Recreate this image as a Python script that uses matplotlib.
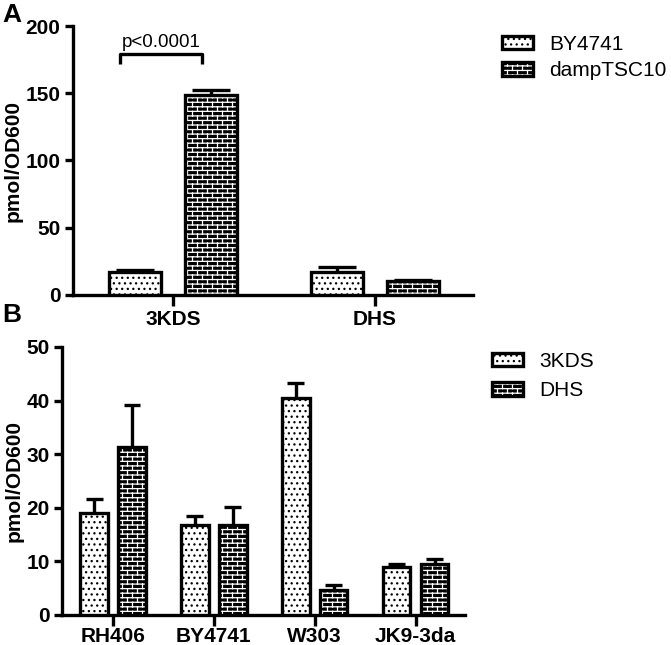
import warnings
import numpy as np
import matplotlib
matplotlib.use('Agg')
import matplotlib.pyplot as plt
import matplotlib.hatch as mhatch
from matplotlib.path import Path
from matplotlib.colors import to_rgba

warnings.filterwarnings('ignore')

# Panel A: 3KDS / DHS in BY4741 vs dampTSC10
groups_a = ['3KDS', 'DHS']
series_a = ['BY4741', 'dampTSC10']
by4741_a = [17, 17]
by4741_a_err = [1.5, 3.5]
damp_a = [149, 10.5]
damp_a_err = [3.5, 1.0]

# Panel B: strains
strains_b = ['RH406', 'BY4741', 'W303', 'JK9-3da']
series_b = ['3KDS', 'DHS']
kds_b = [19, 16.7, 40.4, 9.0]
kds_b_err = [2.7, 1.8, 2.8, 0.6]
dhs_b = [31.4, 16.7, 4.7, 9.6]
dhs_b_err = [7.8, 3.4, 0.9, 0.9]


# brick hatch ('b'), white mortar lines on black bars
class BrickHatch(mhatch.HatchPatternBase):
    rows = 22
    cols = 10

    def __init__(self, hatch, density):
        self.on = 'b' in hatch
        if self.on:
            self.num_vertices = 2 * self.rows + 2 * self.rows * self.cols + 2 * self.cols
        else:
            self.num_vertices = 0

    def set_vertices_and_codes(self, vertices, codes):
        h = 1.0 / self.rows
        w = 1.0 / self.cols
        segs = []
        for i in range(self.rows):
            y0 = (i + 0.5) * h
            segs.append(((0, y0), (1, y0)))
            off = 0.25 * w if i % 2 == 0 else 0.75 * w
            for j in range(self.cols):
                x = off + j * w
                if i < self.rows - 1:
                    segs.append(((x, y0), (x, y0 + h)))
                else:
                    segs.append(((x, y0), (x, 1.0)))
                    segs.append(((x, 0.0), (x, 0.5 * h)))
        for k, (a, b) in enumerate(segs):
            vertices[2 * k] = a
            vertices[2 * k + 1] = b
            codes[2 * k] = Path.MOVETO
            codes[2 * k + 1] = Path.LINETO


mhatch._hatch_types.append(BrickHatch)

plt.rcParams['font.family'] = ['Liberation Sans', 'DejaVu Sans']
plt.rcParams['hatch.linewidth'] = 0.9

LW = 2.4
W, H = 671, 645
fig = plt.figure(figsize=(W / 100, H / 100), dpi=100)


def px_axes(left, top, right, bottom):
    return fig.add_axes([left / W, 1 - bottom / H, (right - left) / W, (bottom - top) / H])


def draw_bars(ax, x, vals, errs, width, kind, cap):
    if kind == 'dots':
        bars = ax.bar(x, vals, width, color='white', edgecolor='black',
                      linewidth=LW, hatch='...', zorder=3)
    else:
        bars = ax.bar(x, vals, width, color='black', edgecolor='black',
                      linewidth=LW, hatch='b', zorder=3)
        for p in bars:
            p._hatch_color = to_rgba('white')
    tops = np.array(vals) + np.array(errs)
    ax.vlines(x, vals, tops, color='black', linewidth=LW, zorder=2)
    ax.hlines(tops, np.array(x) - cap, np.array(x) + cap, color='black',
              linewidth=LW, zorder=2)
    return bars


def style_axes(ax, xpad):
    for s in ['top', 'right']:
        ax.spines[s].set_visible(False)
    for s in ['left', 'bottom']:
        ax.spines[s].set_linewidth(LW)
    ax.tick_params(axis='y', direction='out', length=6, width=LW, labelsize=15, pad=3)
    ax.tick_params(axis='x', direction='out', length=8, width=LW, labelsize=15, pad=xpad)
    for lab in ax.get_xticklabels() + ax.get_yticklabels():
        lab.set_fontweight('bold')


# ---- panel A ----
axA = px_axes(73, 26, 473, 295)
xa = np.arange(len(groups_a))
off_a, bw_a = 0.188, 0.257
b1 = draw_bars(axA, xa - off_a, by4741_a, by4741_a_err, bw_a, 'dots', 0.094)
b2 = draw_bars(axA, xa + off_a, damp_a, damp_a_err, bw_a, 'bricks', 0.094)
axA.set_xlim(-0.495, 1.485)
axA.set_ylim(0, 200)
axA.set_yticks([0, 50, 100, 150, 200])
axA.set_xticks(xa)
axA.set_xticklabels(groups_a)
axA.set_ylabel('pmol/OD600', fontsize=15, fontweight='bold')
axA.yaxis.set_label_coords(-0.125, 0.5)
style_axes(axA, 3)
# significance bracket
axA.plot([-0.262, -0.262, 0.144, 0.144], [172, 179, 179, 172], color='black',
         linewidth=LW, solid_capstyle='butt', clip_on=False)
axA.text(-0.059, 188, 'p<0.0001', ha='center', va='center', fontsize=13.5)
axA.legend([b1, b2], series_a, loc='upper left', bbox_to_anchor=(502 / W, 1 - 35 / H),
           bbox_transform=fig.transFigure, frameon=False, fontsize=15,
           handlelength=1.5, handleheight=0.6, labelspacing=0.35,
           handletextpad=0.75, borderpad=0, borderaxespad=0)

# ---- panel B ----
axB = px_axes(62, 347, 465, 615)
xb = np.arange(len(strains_b))
off_b, bw_b = 0.188, 0.273
c1 = draw_bars(axB, xb - off_b, kds_b, kds_b_err, bw_b, 'dots', 0.084)
c2 = draw_bars(axB, xb + off_b, dhs_b, dhs_b_err, bw_b, 'bricks', 0.084)
axB.set_xlim(-0.506, 3.49)
axB.set_ylim(0, 50)
axB.set_yticks([0, 10, 20, 30, 40, 50])
axB.set_xticks(xb)
axB.set_xticklabels(strains_b)
axB.set_ylabel('pmol/OD600', fontsize=15, fontweight='bold')
axB.yaxis.set_label_coords(-0.095, 0.5)
style_axes(axB, 1)
axB.legend([c1, c2], series_b, loc='upper left', bbox_to_anchor=(492 / W, 1 - 352 / H),
           bbox_transform=fig.transFigure, frameon=False, fontsize=15,
           handlelength=1.5, handleheight=0.6, labelspacing=0.5,
           handletextpad=0.75, borderpad=0, borderaxespad=0)

fig.text(2 / W, 1 - 3 / H, 'A', fontsize=19, fontweight='bold', va='top', ha='left')
fig.text(2 / W, 1 - 303 / H, 'B', fontsize=19, fontweight='bold', va='top', ha='left')

fig.savefig('out.png', dpi=100)
